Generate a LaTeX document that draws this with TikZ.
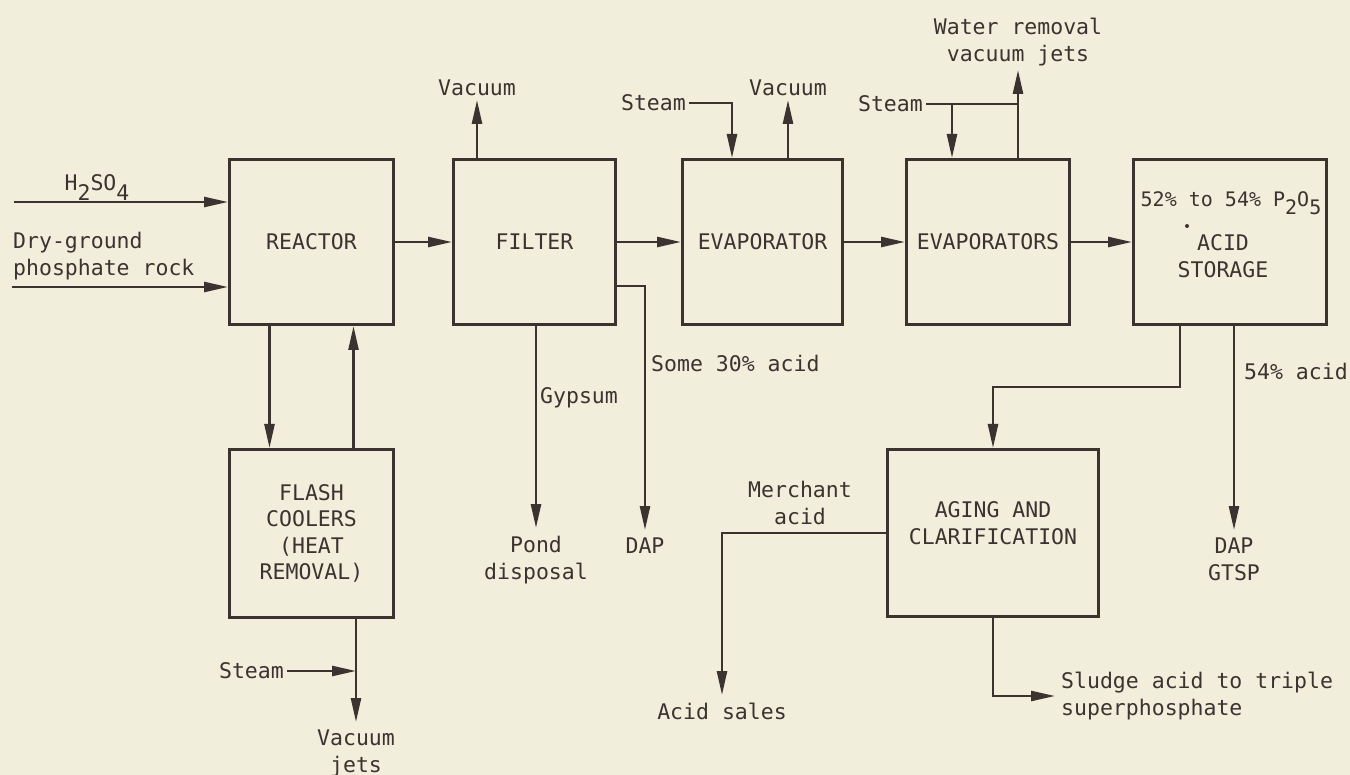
\documentclass[tikz,border=0pt]{standalone}
\usepackage{fontspec}
\setmainfont{DejaVu Sans Mono}
\usetikzlibrary{arrows.meta,calc}
\definecolor{bg}{HTML}{F2EEDC}
\definecolor{ink}{HTML}{3A3330}
\newcommand{\lowsub}[1]{\raisebox{-0.42em}{#1}}
\begin{document}
\begin{tikzpicture}[x=1pt,y=-1pt,
  every node/.style={font=\fontsize{21.5}{26.5}\selectfont, text=ink},
  blk/.style={draw=ink, line width=3pt, inner sep=0pt, align=center},
  flow/.style={draw=ink, line width=2.5pt, -{Triangle[length=24pt,width=10pt]}},
  plain/.style={draw=ink, line width=2.5pt},
  lbl/.style={inner sep=3pt, align=center},
  downlbl/.style={lbl, anchor=north, inner ysep=8pt},
  uplbl/.style={lbl, anchor=south, inner ysep=4pt},
]
\fill[bg] (0,0) rectangle (1350,775);
\useasboundingbox (0,0) rectangle (1350,775);

% process boxes
\node[blk, minimum width=164pt, minimum height=165pt] (reactor) at (311.5,242) {REACTOR};
\node[blk, minimum width=162pt, minimum height=165pt] (filter) at (534.5,242) {FILTER};
\node[blk, minimum width=160pt, minimum height=165pt] (evap1) at (762.5,242) {EVAPORATOR};
\node[blk, minimum width=163pt, minimum height=165pt] (evap2) at (988,242) {EVAPORATORS};
\node[blk, minimum width=193pt, minimum height=165pt] (store) at (1230,242) {};
\node[blk, minimum width=164pt, minimum height=168pt] (flash) at (311.5,533.5) {FLASH\\COOLERS\\(HEAT\\REMOVAL)};
\node[blk, minimum width=211pt, minimum height=167pt] (aging) at (993,533) {};

% box texts
\node[lbl, font=\fontsize{20}{24}\selectfont] (storetop) at (1231,203) {52\% to 54\% P\lowsub{2}O\lowsub{5}};
\node[lbl] (storetxt) at (1223,256) {ACID\\STORAGE};
\node[lbl] (agingtxt) at (993,523) {AGING AND\\CLARIFICATION};
\fill[ink] (1187,226) circle (2pt);

% feed lines
\coordinate (h2in) at (14,202);
\coordinate (rockin) at (12,287);
\node[lbl, anchor=base] (h2so4) at (97,191) {H\lowsub{2}SO\lowsub{4}};
\node[lbl, anchor=west, align=left] (rock) at (10,256) {Dry-ground\\phosphate rock};
\draw[flow] (h2in) -- (h2in -| reactor.west);
\draw[flow] (rockin) -- (rockin -| reactor.west);

% main flow
\draw[flow] (reactor.east) -- (filter.west);
\draw[flow] (filter.east) -- (evap1.west);
\draw[flow] (evap1.east) -- (evap2.west);
\draw[flow] (evap2.east) -- (store.west);

% reactor <-> flash coolers
\draw[flow] ([xshift=-42pt]reactor.south) -- ([xshift=-42pt]flash.north);
\draw[flow] ([xshift=42pt]flash.north) -- ([xshift=42pt]reactor.south);

% flash coolers outlet
\node[downlbl] (vj) at (356,722) {Vacuum\\jets};
\node[lbl, anchor=east] (steam4) at (287,671) {Steam};
\draw[flow] ([xshift=44.5pt]flash.south) -- (vj.north);
\draw[flow] (steam4.east) -- (steam4.east -| vj.north);

% filter
\node[uplbl] (vac1) at (477,100) {Vacuum};
\draw[flow] (filter.north -| vac1.south) -- (vac1.south);
\node[downlbl] (pond) at (536,528) {Pond\\disposal};
\draw[flow] (filter.south -| pond.north) -- (pond.north);
\node[lbl, anchor=west] (gyp) at (537,398) {Gypsum};
\node[downlbl] (dap1) at (645,530) {DAP};
\draw[flow] ([yshift=-44pt]filter.east) -| (dap1.north);
\node[lbl, anchor=west] (some) at (648,363) {Some 30\% acid};

% evaporator
\node[lbl, anchor=east] (steam2) at (689,103) {Steam};
\draw[flow] (steam2.east) -| ([xshift=-30.5pt]evap1.north);
\node[uplbl] (vac2) at (788,100) {Vacuum};
\draw[flow] (evap1.north -| vac2.south) -- (vac2.south);

% evaporators
\node[lbl, anchor=east] (steam3) at (926,104) {Steam};
\node[uplbl] (water) at (1018,70) {Water removal\\vacuum jets};
\draw[plain] (steam3.east) -- (steam3.east -| water.south);
\draw[flow] (evap2.north -| water.south) -- (water.south);
\draw[flow] ([xshift=-36pt]evap2.north |- steam3.east) -- ([xshift=-36pt]evap2.north);

% acid storage outlets
\draw[flow] ([xshift=-50pt]store.south) -- ++(0,61) -| (aging.north);
\node[downlbl] (dap2) at (1234,530) {DAP\\GTSP};
\draw[flow] (store.south -| dap2.north) -- (dap2.north);
\node[lbl, anchor=west] (acid54) at (1241,371) {54\% acid};

% aging outlets
\node[downlbl] (sales) at (722,695) {Acid sales};
\draw[flow] (aging.west) -| (sales.north);
\node[lbl] (merchant) at (800,503) {Merchant\\acid};
\node[lbl, anchor=west, align=left, inner xsep=6pt] (sludge) at (1055,696) {Sludge acid to triple\\superphosphate};
\draw[flow] (aging.south) |- (sludge.west);
\end{tikzpicture}
\end{document}
